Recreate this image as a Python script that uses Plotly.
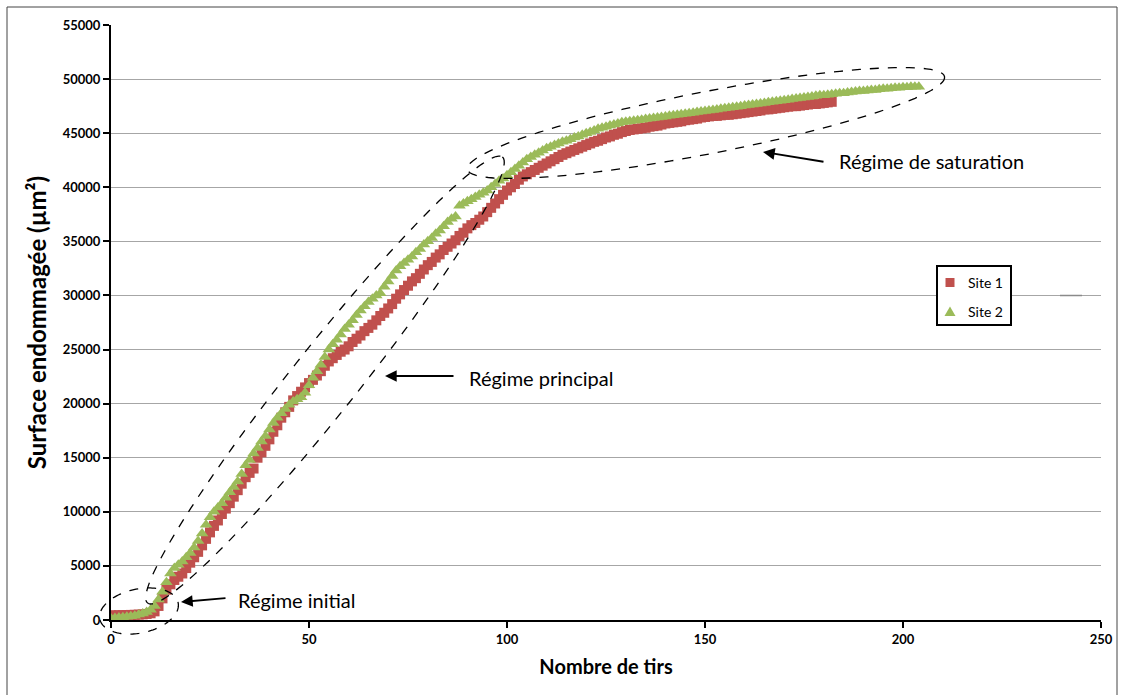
import numpy as np
import plotly.graph_objects as go

# ---------------- data ----------------
site1_y = [
    420, 430, 440, 450, 460, 470, 480, 500, 520, 560, 620, 800,
    1300, 2000, 2800, 3300, 3700, 4000, 4300, 4800, 5300,
    5800, 6300, 6900, 7500, 8100, 8700, 9200, 9800, 10300, 10800,
    11400, 12000, 12600, 13200, 13600, 14000, 15000, 15500, 16100, 16700,
    17400, 18000, 18700, 19200, 19700, 20300, 20700, 21100, 21500, 21900,
    22200, 22600, 23000, 23500, 23900, 24200, 24500, 24800, 25000, 25300,
    25700, 26000, 26300, 26700, 27000, 27300, 27700, 28100, 28400, 28800,
    29200, 29700, 30100, 30500, 30900, 31300, 31600, 32000, 32400, 32800,
    33100, 33500, 33800, 34200, 34500, 34800, 35100, 35500, 35800, 36200,
    36500, 36700, 37000, 37300, 37700, 38100, 38500, 38900, 39300, 39700,
    40000, 40300, 40700, 41000, 41200, 41400, 41600, 41800, 42000, 42200,
    42400, 42600, 42800, 43000, 43150, 43300, 43450, 43600, 43750, 43900,
    44050, 44200, 44300, 44450, 44600, 44700, 44850, 44950, 45100, 45200,
    45300, 45350, 45400, 45450, 45500, 45600, 45650, 45700, 45800, 45900,
    45950, 46000, 46050, 46100, 46200, 46250, 46300, 46350, 46450, 46500,
    46550, 46600, 46600, 46650, 46700, 46700, 46750, 46800, 46850, 46900,
    46950, 47000, 47050, 47100, 47200, 47200, 47250, 47300, 47350, 47400,
    47450, 47500, 47500, 47550, 47600, 47650, 47700, 47700, 47750, 47800, 47850, 47900,
]
site1_x = list(range(len(site1_y)))

site2_y = [
    150, 180, 220, 260, 300, 350, 400, 500, 600, 750, 950, 1300,
    1900, 2600, 3500, 4300, 4800, 5100, 5400, 5800, 6200,
    6700, 7300, 8000, 8800, 9500, 10000, 10400, 10800, 11300, 11800,
    12300, 12800, 13500, 14300, 14800, 15400, 15900, 16500, 17000, 17600,
    18200, 18700, 19100, 19500, 19900, 20200, 20400, 20600, 21000, 21700,
    22400, 23000, 23600, 24300, 25000, 25500, 25900, 26400, 26900, 27300,
    27700, 28200, 28600, 29000, 29400, 29700, 30000, 30200, 30800, 31300,
    31800, 32300, 32700, 33000, 33300, 33600, 34000, 34300, 34700, 35000,
    35300, 35700, 36000, 36400, 36800, 37100, 37300, 38300, 38500, 38700,
    38900, 39100, 39300, 39500, 39700, 40000, 40300, 40600, 40800, 41100,
    41400, 41700, 42000, 42300, 42600, 42800, 43000, 43200, 43400, 43600,
    43750, 43900, 44050, 44200, 44300, 44450, 44600, 44700, 44850, 45000,
    45100, 45250, 45400, 45500, 45600, 45700, 45800, 45900, 46000, 46050,
    46100, 46150, 46200, 46250, 46300, 46350, 46400, 46450, 46500, 46550,
    46600, 46650, 46700, 46750, 46800, 46850, 46900, 46950, 47000, 47050,
    47100, 47150, 47200, 47250, 47300, 47350, 47400, 47450, 47500, 47550,
    47600, 47650, 47700, 47750, 47800, 47850, 47900, 47950, 48000, 48050,
    48100, 48150, 48200, 48250, 48300, 48350, 48400, 48450, 48500, 48500,
    48550, 48600, 48650, 48700, 48700, 48750, 48800, 48850, 48900, 48900,
    48950, 49000, 49000, 49050, 49100, 49100, 49150, 49200, 49200, 49250,
    49250, 49300, 49300, 49300,
]
site2_x = list(range(len(site2_y)))

series_names = ["Site 1", "Site 2"]
series_colors = ["#C0504D", "#9BBB59"]
x_ticks = [0, 50, 100, 150, 200, 250]
y_ticks = list(range(0, 55001, 5000))
x_title = "Nombre de tirs"
y_title = "Surface endommagée (µm²)"
labels = ["Régime initial", "Régime principal", "Régime de saturation"]

# ---------------- layout geometry ----------------
W, H = 1123, 695
L, R, T, B = 111, 1101, 25, 620


def px(xp):
    return (xp - L) / (R - L)


def py(yp):
    return (B - yp) / (B - T)


def ellipse_path(cx, cy, a, b, ang_deg, n=120):
    t = np.linspace(0, 2 * np.pi, n)
    th = np.deg2rad(ang_deg)
    xs = cx + a * np.cos(t) * np.cos(th) - b * np.sin(t) * np.sin(th)
    ys = cy + a * np.cos(t) * np.sin(th) + b * np.sin(t) * np.cos(th)
    pts = [f"{px(xv):.5f},{py(yv):.5f}" for xv, yv in zip(xs, ys)]
    return "M " + " L ".join(pts) + " Z"


def poly_path(points):
    return "M " + " L ".join(f"{px(a):.5f},{py(b):.5f}" for a, b in points) + " Z"


fig = go.Figure()
fig.add_trace(go.Scatter(
    x=site1_x, y=site1_y, mode="markers", name=series_names[0],
    marker=dict(symbol="square", size=10, color=series_colors[0],
                line=dict(width=0)),
))
fig.add_trace(go.Scatter(
    x=site2_x, y=site2_y, mode="markers", name=series_names[1],
    marker=dict(symbol="triangle-up", size=11, color=series_colors[1],
                line=dict(width=0)),
))

shapes = []
dash_line = dict(color="black", width=1.3, dash="dash")
# ellipses (pixel geometry)
shapes.append(dict(type="path", xref="paper", yref="paper",
                   path=ellipse_path(139, 611, 40, 22, -12), line=dash_line))
shapes.append(dict(type="path", xref="paper", yref="paper",
                   path=ellipse_path(325, 380, 285, 33, -51.5), line=dash_line))
shapes.append(dict(type="path", xref="paper", yref="paper",
                   path=ellipse_path(706, 123, 243, 31, -11), line=dash_line))
# outer frame
shapes.append(dict(type="rect", xref="paper", yref="paper",
                   x0=px(7), x1=px(1117), y0=py(705), y1=py(7),
                   line=dict(color="#444444", width=1)))
# small grey mark next to legend
shapes.append(dict(type="line", xref="paper", yref="paper",
                   x0=px(1060), x1=px(1082), y0=py(295.5), y1=py(295.5),
                   line=dict(color="#8a8a8a", width=1.5)))
# legend box and symbols
shapes.append(dict(type="rect", xref="paper", yref="paper",
                   x0=px(937), x1=px(1011), y0=py(325), y1=py(266),
                   fillcolor="white", line=dict(color="black", width=2),
                   layer="above"))
shapes.append(dict(type="path", xref="paper", yref="paper",
                   path=poly_path([(945.5, 278), (954.5, 278), (954.5, 287), (945.5, 287)]),
                   fillcolor=series_colors[0], line=dict(width=0), layer="above"))
shapes.append(dict(type="path", xref="paper", yref="paper",
                   path=poly_path([(944.5, 316), (955.5, 316), (950, 306.5)]),
                   fillcolor=series_colors[1], line=dict(width=0), layer="above"))

annotations = []
arrow_kw = dict(showarrow=True, arrowhead=2, arrowsize=1.3, arrowwidth=1.8,
                arrowcolor="black", text="", xref="paper", yref="paper",
                axref="pixel", ayref="pixel")
annotations.append(dict(x=px(181), y=py(602), ax=46, ay=-4, **arrow_kw))
annotations.append(dict(x=px(385), y=py(376), ax=70, ay=0, **arrow_kw))
annotations.append(dict(x=px(763), y=py(152), ax=62, ay=10, **arrow_kw))

text_font = dict(family="Lato", size=20, color="black")
annotations.append(dict(x=px(236), y=py(600), text=labels[0], showarrow=False,
                        xref="paper", yref="paper", xanchor="left",
                        yanchor="middle", font=text_font))
annotations.append(dict(x=px(467), y=py(378), text=labels[1], showarrow=False,
                        xref="paper", yref="paper", xanchor="left",
                        yanchor="middle", font=text_font))
annotations.append(dict(x=px(837), y=py(161), text=labels[2], showarrow=False,
                        xref="paper", yref="paper", xanchor="left",
                        yanchor="middle", font=text_font))
leg_font = dict(family="Lato", size=14, color="black")
for name, yp in zip(series_names, [282.5, 311.5]):
    annotations.append(dict(x=px(966), y=py(yp), text=name, showarrow=False,
                            xref="paper", yref="paper", xanchor="left",
                            yanchor="middle", font=leg_font))

tick_font = dict(family="Lato", size=13, color="black", weight="bold")
title_font = dict(family="Lato", size=20, color="black", weight="bold")

fig.update_layout(
    width=W, height=H,
    margin=dict(l=L, r=W - R, t=T, b=H - B, autoexpand=False),
    paper_bgcolor="white", plot_bgcolor="white",
    showlegend=False,
    xaxis=dict(
        range=[0, 250], tickvals=x_ticks, showgrid=False, zeroline=False,
        showline=True, linecolor="black", linewidth=2,
        ticks="outside", ticklen=6, tickwidth=2, tickcolor="black",
        tickfont=tick_font, tickformat="d",
        title=dict(text=x_title, font=title_font, standoff=14),
    ),
    yaxis=dict(
        range=[0, 55000], tickvals=y_ticks, showgrid=True,
        gridcolor="#A6A6A6", gridwidth=1.3, zeroline=False,
        showline=True, linecolor="black", linewidth=2,
        ticks="outside", ticklen=6, tickwidth=2, tickcolor="black",
        tickfont=tick_font, tickformat="d",
        title=dict(text=y_title, font=dict(family="Lato", size=24, color="black", weight="bold"),
                   standoff=9),
    ),
    shapes=shapes,
    annotations=annotations,
)

fig.write_html("out.html", config={"displayModeBar": False},
               post_script="document.body.style.margin='0px';")
